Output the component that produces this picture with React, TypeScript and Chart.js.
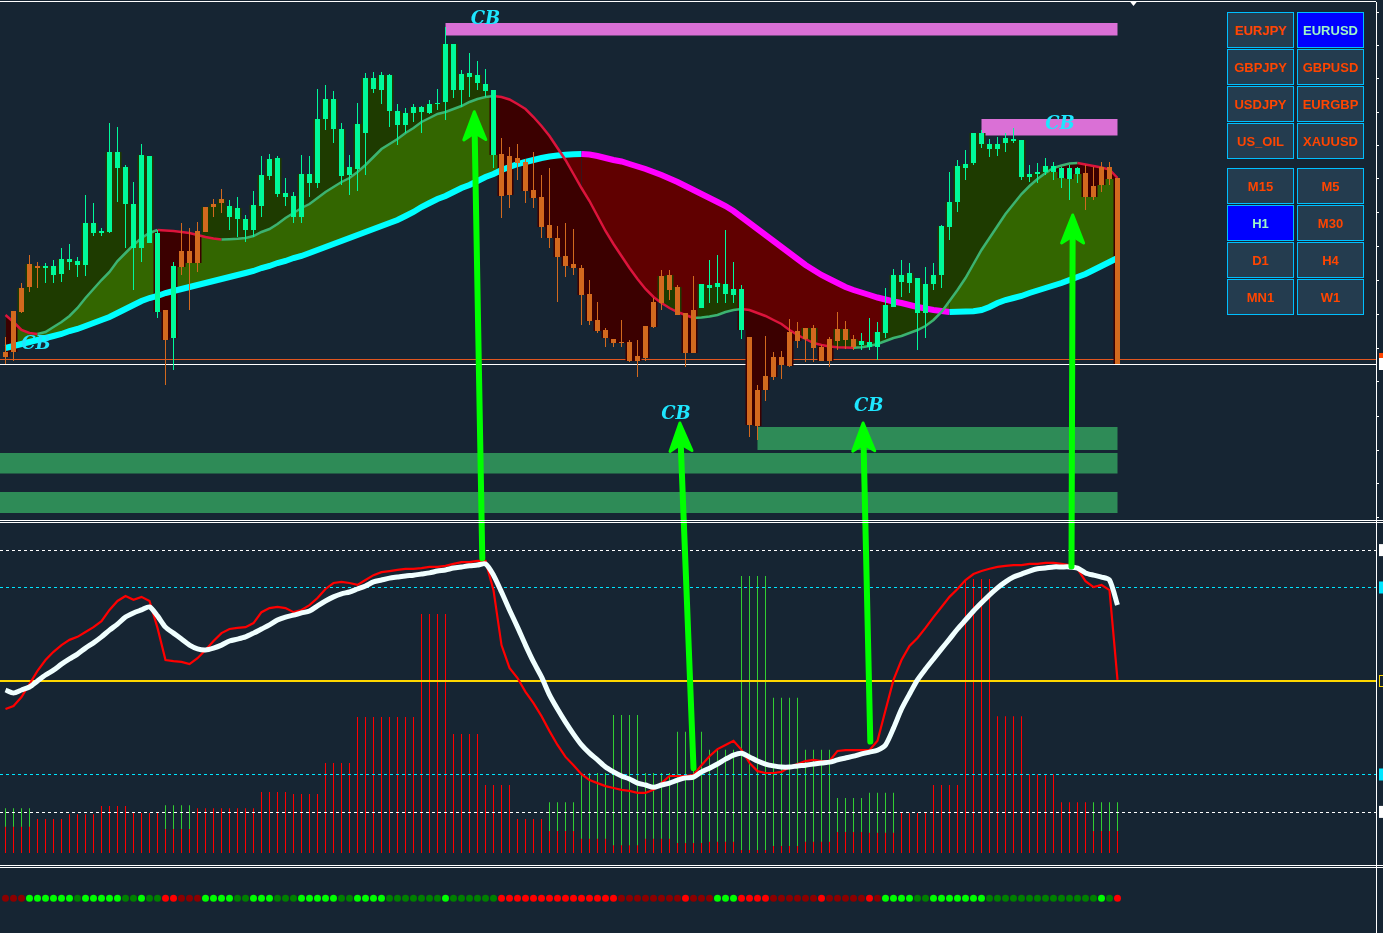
import React, { useEffect, useRef } from "react";
import { Chart, registerables } from "chart.js";

Chart.register(...registerables);

// ---------------- Price panel data (EURUSD, H1) ----------------
const openP = [
  1.0648, 1.0689, 1.0712, 1.0736, 1.0734, 1.0732, 1.0725, 1.0726, 1.0738, 1.0735,
  1.0735, 1.0767, 1.0767, 1.0768, 1.0832, 1.0796, 1.0752, 1.0752, 1.0757, 1.0688,
  1.0690, 1.0662, 1.0749, 1.0749, 1.0769, 1.0793, 1.0796, 1.0801, 1.0783, 1.0781,
  1.0770, 1.0770, 1.0794, 1.0824, 1.0806, 1.0803, 1.0783, 1.0783, 1.0817, 1.0817,
  1.0881, 1.0871, 1.0824, 1.0825, 1.0831, 1.0867, 1.0911, 1.0910, 1.0889, 1.0875,
  1.0875, 1.0887, 1.0888, 1.0887, 1.0896, 1.0898, 1.0910, 1.0910, 1.0923, 1.0917,
  1.0909, 1.0845, 1.0846, 1.0844, 1.0842, 1.0838, 1.0810, 1.0803, 1.0775, 1.0762,
  1.0744, 1.0736, 1.0732, 1.0706, 1.0680, 1.0670, 1.0661, 1.0658, 1.0658, 1.0644,
  1.0674, 1.0698, 1.0724, 1.0725, 1.0713, 1.0687, 1.0690, 1.0692, 1.0712, 1.0713,
  1.0706, 1.0705, 1.0670, 1.0663, 1.0610, 1.0624, 1.0643, 1.0643, 1.0668, 1.0669,
  1.0672, 1.0672, 1.0653, 1.0661, 1.0671, 1.0671, 1.0661, 1.0655, 1.0653, 1.0653,
  1.0667, 1.0693, 1.0718, 1.0717, 1.0687, 1.0687, 1.0716, 1.0725, 1.0773, 1.0798,
  1.0832, 1.0837, 1.0856, 1.0851, 1.0851, 1.0857, 1.0859, 1.0823, 1.0823, 1.0826,
  1.0828, 1.0828, 1.0822, 1.0821, 1.0826, 1.0827, 1.0814, 1.0833, 1.0833, 1.0822,
];
const highP = [
  1.0663, 1.0689, 1.0717, 1.0745, 1.0738, 1.0737, 1.0740, 1.0752, 1.0756, 1.0743,
  1.0805, 1.0797, 1.0772, 1.0877, 1.0873, 1.0835, 1.0818, 1.0856, 1.0844, 1.0770,
  1.0690, 1.0738, 1.0777, 1.0772, 1.0778, 1.0793, 1.0801, 1.0811, 1.0800, 1.0803,
  1.0785, 1.0809, 1.0844, 1.0846, 1.0844, 1.0822, 1.0808, 1.0845, 1.0844, 1.0911,
  1.0915, 1.0909, 1.0877, 1.0845, 1.0897, 1.0927, 1.0928, 1.0928, 1.0926, 1.0896,
  1.0892, 1.0896, 1.0894, 1.0900, 1.0911, 1.0973, 1.0956, 1.0930, 1.0947, 1.0939,
  1.0931, 1.0910, 1.0862, 1.0853, 1.0856, 1.0841, 1.0848, 1.0825, 1.0832, 1.0774,
  1.0777, 1.0771, 1.0735, 1.0720, 1.0698, 1.0672, 1.0661, 1.0680, 1.0660, 1.0660,
  1.0674, 1.0702, 1.0730, 1.0730, 1.0715, 1.0687, 1.0724, 1.0716, 1.0740, 1.0745,
  1.0770, 1.0738, 1.0715, 1.0663, 1.0615, 1.0664, 1.0648, 1.0649, 1.0681, 1.0678,
  1.0672, 1.0675, 1.0655, 1.0663, 1.0688, 1.0679, 1.0665, 1.0667, 1.0682, 1.0678,
  1.0712, 1.0731, 1.0740, 1.0737, 1.0722, 1.0733, 1.0737, 1.0775, 1.0828, 1.0840,
  1.0850, 1.0867, 1.0870, 1.0861, 1.0863, 1.0867, 1.0872, 1.0860, 1.0835, 1.0837,
  1.0842, 1.0838, 1.0833, 1.0835, 1.0833, 1.0835, 1.0833, 1.0838, 1.0838, 1.0822,
];
const lowP = [
  1.0636, 1.0639, 1.0687, 1.0708, 1.0712, 1.0717, 1.0717, 1.0718, 1.0730, 1.0723,
  1.0724, 1.0764, 1.0764, 1.0767, 1.0798, 1.0752, 1.0710, 1.0738, 1.0757, 1.0682,
  1.0615, 1.0630, 1.0725, 1.0690, 1.0728, 1.0768, 1.0783, 1.0787, 1.0770, 1.0763,
  1.0758, 1.0763, 1.0783, 1.0820, 1.0803, 1.0794, 1.0777, 1.0777, 1.0803, 1.0812,
  1.0870, 1.0857, 1.0815, 1.0805, 1.0809, 1.0825, 1.0907, 1.0896, 1.0873, 1.0855,
  1.0867, 1.0878, 1.0867, 1.0886, 1.0890, 1.0880, 1.0902, 1.0893, 1.0903, 1.0910,
  1.0903, 1.0832, 1.0782, 1.0792, 1.0820, 1.0797, 1.0792, 1.0762, 1.0752, 1.0698,
  1.0723, 1.0725, 1.0675, 1.0675, 1.0667, 1.0653, 1.0653, 1.0653, 1.0638, 1.0623,
  1.0639, 1.0672, 1.0690, 1.0700, 1.0685, 1.0633, 1.0647, 1.0692, 1.0697, 1.0697,
  1.0697, 1.0697, 1.0661, 1.0563, 1.0560, 1.0599, 1.0620, 1.0621, 1.0633, 1.0652,
  1.0638, 1.0638, 1.0639, 1.0633, 1.0650, 1.0651, 1.0650, 1.0650, 1.0650, 1.0640,
  1.0662, 1.0693, 1.0703, 1.0707, 1.0650, 1.0662, 1.0710, 1.0712, 1.0760, 1.0788,
  1.0820, 1.0835, 1.0852, 1.0843, 1.0844, 1.0848, 1.0857, 1.0820, 1.0818, 1.0817,
  1.0825, 1.0820, 1.0812, 1.0800, 1.0817, 1.0790, 1.0800, 1.0808, 1.0815, 1.0636,
];
const closeP = [
  1.0643, 1.0648, 1.0688, 1.0713, 1.0732, 1.0734, 1.0734, 1.0741, 1.0741, 1.0739,
  1.0777, 1.0777, 1.0769, 1.0848, 1.0848, 1.0833, 1.0796, 1.0845, 1.0844, 1.0767,
  1.0660, 1.0734, 1.0733, 1.0737, 1.0737, 1.0768, 1.0793, 1.0797, 1.0794, 1.0792,
  1.0781, 1.0795, 1.0825, 1.0841, 1.0842, 1.0807, 1.0804, 1.0826, 1.0826, 1.0881,
  1.0901, 1.0901, 1.0871, 1.0833, 1.0876, 1.0922, 1.0922, 1.0925, 1.0925, 1.0889,
  1.0887, 1.0893, 1.0893, 1.0896, 1.0897, 1.0956, 1.0956, 1.0926, 1.0927, 1.0925,
  1.0916, 1.0910, 1.0804, 1.0805, 1.0837, 1.0809, 1.0802, 1.0773, 1.0762, 1.0743,
  1.0734, 1.0732, 1.0705, 1.0679, 1.0669, 1.0662, 1.0657, 1.0657, 1.0639, 1.0639,
  1.0642, 1.0673, 1.0697, 1.0710, 1.0685, 1.0647, 1.0647, 1.0716, 1.0715, 1.0717,
  1.0716, 1.0711, 1.0711, 1.0575, 1.0574, 1.0610, 1.0623, 1.0635, 1.0634, 1.0659,
  1.0661, 1.0652, 1.0639, 1.0639, 1.0659, 1.0660, 1.0653, 1.0659, 1.0658, 1.0668,
  1.0695, 1.0725, 1.0725, 1.0727, 1.0722, 1.0716, 1.0725, 1.0774, 1.0798, 1.0834,
  1.0836, 1.0867, 1.0867, 1.0856, 1.0856, 1.0862, 1.0861, 1.0860, 1.0826, 1.0828,
  1.0834, 1.0834, 1.0832, 1.0832, 1.0832, 1.0803, 1.0803, 1.0815, 1.0821, 1.0636,
];
const fastMA = [
  1.0685, 1.0678, 1.0670, 1.0667, 1.0666, 1.0668, 1.0673, 1.0678, 1.0684, 1.0692,
  1.0702, 1.0711, 1.0720, 1.0728, 1.0739, 1.0747, 1.0755, 1.0762, 1.0767, 1.0770,
  1.07695, 1.0769, 1.0768, 1.0767, 1.0765, 1.0763, 1.07615, 1.07605, 1.07608, 1.07612,
  1.0762, 1.0764, 1.0768, 1.0771, 1.0776, 1.0782, 1.0787, 1.0792, 1.0796, 1.0802,
  1.0808, 1.0813, 1.0818, 1.0822, 1.0828, 1.0835, 1.0843, 1.0851, 1.0856, 1.0861,
  1.0867, 1.0872, 1.0878, 1.0882, 1.0886, 1.0888, 1.0891, 1.0894, 1.0898, 1.0901,
  1.0903, 1.0904, 1.0903, 1.09005, 1.0896, 1.0891, 1.0883, 1.0874, 1.0864, 1.0852,
  1.0840, 1.0826, 1.0812, 1.0799, 1.0784, 1.0769, 1.0756, 1.0744, 1.0732, 1.0721,
  1.0711, 1.0703, 1.0697, 1.0692, 1.0688, 1.0685, 1.0682, 1.06825, 1.06835, 1.0685,
  1.0688, 1.0690, 1.0691, 1.0690, 1.0687, 1.0684, 1.0680, 1.0676, 1.0670, 1.0665,
  1.0661, 1.0657, 1.0655, 1.06535, 1.06527, 1.06524, 1.06522, 1.06528, 1.0654, 1.0656,
  1.0659, 1.0662, 1.0664, 1.0667, 1.0670, 1.0674, 1.0680, 1.0688, 1.0699, 1.0710,
  1.0722, 1.0736, 1.0750, 1.0762, 1.0774, 1.0786, 1.0796, 1.0806, 1.0814, 1.0821,
  1.0827, 1.0832, 1.08345, 1.08365, 1.0837, 1.08355, 1.0834, 1.08325, 1.08305, 1.0822,
];
const slowMA = [
  1.0652, 1.0654, 1.0656, 1.0658, 1.0660, 1.0662, 1.0664, 1.0666, 1.0669, 1.0671,
  1.0674, 1.0677, 1.0680, 1.0683, 1.0687, 1.0691, 1.0695, 1.0699, 1.0702, 1.0704,
  1.0707, 1.0709, 1.0711, 1.0713, 1.0715, 1.0717, 1.0719, 1.0721, 1.0723, 1.0725,
  1.0727, 1.0729, 1.0732, 1.0734, 1.0737, 1.0739, 1.0742, 1.0744, 1.0747, 1.0750,
  1.0753, 1.0756, 1.0759, 1.0762, 1.0765, 1.0768, 1.0771, 1.0774, 1.0777, 1.0780,
  1.0784, 1.0788, 1.0793, 1.0797, 1.0801, 1.0804, 1.0808, 1.0812, 1.0815, 1.0819,
  1.0823, 1.0826, 1.0830, 1.0833, 1.0836, 1.0838, 1.0840, 1.0842, 1.08435, 1.08445,
  1.08452, 1.08457, 1.08459, 1.08455, 1.0844, 1.0842, 1.0840, 1.08385, 1.0836, 1.08335,
  1.0831, 1.0828, 1.0825, 1.08215, 1.0818, 1.0814, 1.0810, 1.0806, 1.0802, 1.0798,
  1.0794, 1.0789, 1.0783, 1.0777, 1.0771, 1.0765, 1.0759, 1.0753, 1.0747, 1.0741,
  1.0735, 1.0730, 1.0725, 1.0721, 1.0717, 1.0713, 1.0710, 1.07075, 1.0705, 1.07025,
  1.07005, 1.06985, 1.0697, 1.0695, 1.0693, 1.06915, 1.0690, 1.0689, 1.0688, 1.06882,
  1.06884, 1.06887, 1.0690, 1.0693, 1.0697, 1.0700, 1.0702, 1.0704, 1.0707, 1.07095,
  1.0712, 1.07145, 1.0717, 1.0720, 1.0723, 1.0726, 1.0730, 1.0734, 1.0738, 1.0742,
];
const askPrice = 1.0641;
const priceTicks = [
  1.0988, 1.09545, 1.09215, 1.0888, 1.08545, 1.08215, 1.0788, 1.0754,
  1.0720, 1.0686, 1.0652, 1.0618, 1.0584, 1.0550, 1.0516, 1.0483,
];

// supply (pink) and demand (green) zones: start bar, top price, bottom price
const supplyStart = [55, 122];
const supplyTop = [1.0977, 1.0881];
const supplyBottom = [1.09645, 1.08645];
const demandStart = [94, -1, -1];
const demandTop = [1.0573, 1.0547, 1.0508];
const demandBottom = [1.0550, 1.05265, 1.0487];

// signal glyphs
const glyphBar = [60, 131.8, 3.8, 83.8, 107.9];
const glyphPrice = [1.0981, 1.0876, 1.0656, 1.0586, 1.0594];

// arrows: from oscillator value to price
const arrowFromBar = [59.6, 86.0, 108.1, 133.25];
const arrowFromOsc = [82.8, 26.7, 33.8, 80.6];
const arrowToBar = [58.6, 84.3, 107.2, 133.4];
const arrowToPrice = [1.08883, 1.0577, 1.0577, 1.0785];

// ---------------- Oscillator panel ----------------
const oscWhite = [
  47.6, 46.8, 47.6, 48.4, 50.0, 51.6, 52.9, 54.5, 55.9, 57.2,
  58.8, 60.2, 61.8, 63.6, 65.2, 67.1, 68.2, 69.0, 69.8, 67.4,
  64.4, 62.8, 61.2, 59.6, 58.6, 58.3, 58.8, 59.6, 60.7, 61.2,
  61.8, 62.8, 63.9, 65.0, 66.3, 67.1, 67.6, 68.2, 68.7, 70.1,
  71.4, 72.5, 73.3, 73.8, 74.6, 75.4, 76.5, 77.0, 77.5, 77.8,
  78.1, 78.3, 78.6, 78.9, 79.4, 79.7, 80.2, 80.5, 80.8, 81.0,
  81.3, 78.3, 73.8, 69.0, 64.4, 59.6, 55.1, 51.1, 46.3, 42.5,
  39.0, 35.8, 32.9, 30.7, 28.9, 27.0, 25.7, 24.6, 23.8, 22.7,
  22.2, 21.6, 22.2, 22.7, 23.5, 24.1, 24.3, 25.7, 26.7, 27.8,
  29.1, 30.2, 30.7, 29.7, 28.6, 27.8, 27.3, 27.0, 27.0, 27.3,
  27.5, 27.8, 28.1, 28.3, 28.9, 29.4, 29.9, 30.5, 31.0, 31.5,
  32.9, 37.4, 42.5, 46.5, 50.3, 53.2, 55.9, 58.6, 61.2, 63.9,
  66.3, 68.7, 70.9, 73.0, 74.9, 76.5, 77.8, 78.6, 79.4, 80.0,
  80.2, 80.5, 80.5, 80.5, 80.2, 78.9, 78.3, 77.8, 77.0, 70.3,
];
const oscRed = [
  42.5, 43.3, 45.7, 49.2, 52.7, 55.6, 57.8, 59.6, 61.0, 61.8,
  63.1, 64.4, 66.0, 69.0, 71.4, 72.7, 71.7, 72.5, 71.4, 64.2,
  55.6, 55.3, 55.1, 54.5, 56.1, 58.3, 60.7, 62.8, 63.9, 64.2,
  64.4, 65.5, 68.4, 69.5, 69.8, 69.5, 68.4, 69.0, 70.3, 72.2,
  74.6, 76.2, 76.5, 76.2, 75.7, 77.0, 78.3, 79.1, 79.4, 79.7,
  80.0, 80.0, 80.2, 80.5, 80.5, 80.8, 81.3, 81.8, 81.8, 82.1,
  82.1, 74.3, 59.6, 53.5, 50.8, 47.1, 44.1, 40.6, 36.6, 32.9,
  29.7, 27.5, 25.1, 23.5, 22.7, 21.9, 21.4, 20.9, 20.6, 20.1,
  20.1, 20.9, 22.7, 24.6, 24.6, 24.6, 24.9, 27.5, 29.9, 31.8,
  32.9, 34.0, 31.6, 28.1, 25.9, 25.4, 25.4, 25.7, 27.0, 27.8,
  28.6, 28.9, 28.6, 28.6, 31.3, 31.5, 31.5, 31.5, 31.5, 34.0,
  42.2, 50.3, 55.6, 59.4, 61.5, 64.2, 67.1, 69.8, 72.5, 74.6,
  77.0, 78.6, 79.4, 80.0, 80.5, 80.8, 81.0, 81.0, 81.3, 81.3,
  81.6, 81.6, 81.3, 81.0, 80.0, 76.7, 75.1, 75.7, 74.3, 50.3,
];
// higher-timeframe histogram, one value per block of 4 bars
const histRed = [
  11.0, 13.1, 14.4, 16.6, 14.7, 10.4, 16.0, 16.0, 20.3, 19.8,
  28.1, 40.4, 40.4, 67.9, 35.8, 22.2, 13.1, 9.9, 7.8, 6.1,
  7.8, 6.7, 7.0, 4.8, 5.9, 7.0, 9.6, 9.4, 14.7, 22.2,
  77.3, 40.6, 25.1, 17.6, 9.9,
];
const histGreen = [
  16.0, null, null, null, null, 16.8, null, null, null, null,
  null, null, null, null, null, null, null, 17.6, 25.4, 40.9,
  25.4, 36.4, 31.6, 78.1, 45.5, 31.6, 18.7, 20.1, null, null,
  null, null, null, null, 17.6,
];
const histBase = 4.0;
const oscOuterLevels = [85, 15];
const oscInnerLevels = [75, 25];
const oscMidLevel = 50;

// ---------------- Trend dots panel: 2 strong up, 1 weak up, -1 weak down, -2 strong down
const dotState = [
  -1, -1, -1, 2, 2, 2, 2, 2, 2, 1,
  2, 2, 2, 2, 2, 1, 1, 2, 1, 1,
  -2, -2, -1, -1, -1, 2, 2, 2, 2, 1,
  1, 2, 2, 2, 1, 1, 1, 2, 2, 2,
  2, 2, 1, 1, 2, 2, 2, 2, 1, 1,
  1, 1, 1, 1, 1, 2, 1, 1, 1, 1,
  1, 1, -2, -2, -2, -2, -2, -2, -2, -2,
  -2, -2, -2, -2, -2, -2, -2, -1, -1, -1,
  -1, -1, -1, -1, -1, -2, -1, -1, -1, 2,
  2, 2, -2, -2, -2, -2, -1, -1, -1, -1,
  -1, -1, -2, -1, -1, -1, -1, -1, -2, -1,
  2, 2, 2, 2, 1, 1, 2, 2, 2, 2,
  2, 2, 2, 1, 1, 1, 1, 1, 1, 1,
  1, 1, 1, 1, 1, 1, 1, 2, 1, -2,
];

// ---------------- Button panel ----------------
const symbolRows = [
  ["EURJPY", "EURUSD"],
  ["GBPJPY", "GBPUSD"],
  ["USDJPY", "EURGBP"],
  ["US_OIL", "XAUUSD"],
];
const timeframeRows = [
  ["M15", "M5"],
  ["H1", "M30"],
  ["D1", "H4"],
  ["MN1", "W1"],
];
const activeSymbol = "EURUSD";
const activeTimeframe = "H1";

// ---------------- styling ----------------
const BG = "#162533";
const BULL = "#00fa9a";
const BEAR = "#d2691e";

// axis geometry (bar spacing 8px, first bar centered at 5.5px)
const X_MIN = -0.6875;
const X_MAX = 171.3125;
const PRICE_MAX = 1.0998;
const PRICE_MIN = 1.0479;
const OSC_MAX = 92.78;
const OSC_MIN = 0.535;
const DOT_LEVEL = 0.52;

function drawArrow(ctx: any, x0: number, y0: number, x1: number, y1: number) {
  const ang = Math.atan2(y1 - y0, x1 - x0);
  const c = Math.cos(ang), s = Math.sin(ang);
  const headLen = 28, headHalf = 11;
  ctx.strokeStyle = "#00ff00";
  ctx.fillStyle = "#00ff00";
  ctx.lineCap = "round";
  ctx.lineJoin = "round";
  ctx.lineWidth = 6;
  ctx.beginPath();
  ctx.moveTo(x0, y0);
  ctx.lineTo(x1 - (headLen - 6) * c, y1 - (headLen - 6) * s);
  ctx.stroke();
  const bx = x1 - headLen * c, by = y1 - headLen * s;
  const nx = -s, ny = c;
  ctx.lineWidth = 3;
  ctx.beginPath();
  ctx.moveTo(x1, y1);
  ctx.lineTo(bx + nx * headHalf, by + ny * headHalf);
  ctx.lineTo(x1 - (headLen - 7) * c, y1 - (headLen - 7) * s);
  ctx.lineTo(bx - nx * headHalf, by - ny * headHalf);
  ctx.closePath();
  ctx.fill();
  ctx.stroke();
}

export default function App() {
  const ref = useRef<HTMLCanvasElement>(null);

  useEffect(() => {
    const canvas = ref.current;
    if (!canvas) return;
    const N = closeP.length;
    const idx = closeP.map((_, i) => i);

    const bodyData = idx.map((i) => ({ x: i, y: [openP[i], closeP[i]] }));
    const wickData = idx.map((i) => ({ x: i, y: [lowP[i], highP[i]] }));
    const candleColors = idx.map((i) => (closeP[i] >= openP[i] ? BULL : BEAR));
    const edgeData = idx.map((i) => {
      const mid = (openP[i] + closeP[i]) / 2;
      return {
        x: i,
        y: mid >= fastMA[i] ? Math.max(openP[i], closeP[i]) : Math.min(openP[i], closeP[i]),
      };
    });
    const histGreenData: any[] = [];
    const histRedData: any[] = [];
    idx.forEach((i) => {
      const g = Math.floor(i / 4);
      if (histGreen[g] != null) histGreenData.push({ x: i, y: [histBase, histGreen[g]] });
      histRedData.push({ x: i, y: [histBase, histRed[g]] });
    });
    const dotColorMap: any = { 2: "#00ff00", 1: "#008000", "-1": "#8b0000", "-2": "#ff0000" };
    const dotData = idx.map((i) => ({ x: i, y: DOT_LEVEL }));
    const dotColors = dotState.map((s) => dotColorMap[String(s)]);

    const OSC_RED_DS = 9;

    const overlay = {
      id: "mtOverlay",
      beforeDatasetsDraw(chart: any) {
        const { ctx, chartArea: ca, scales } = chart;
        const xs = scales.x, ps = scales.price;
        ctx.save();
        ctx.beginPath();
        ctx.rect(ca.left, ps.top, ca.right - ca.left, ps.bottom - ps.top);
        ctx.clip();
        const xEnd = xs.getPixelForValue(N - 1);
        ctx.fillStyle = "#2e8b57";
        demandStart.forEach((b, k) => {
          const x0 = xs.getPixelForValue(b);
          const y0 = ps.getPixelForValue(demandTop[k]);
          const y1 = ps.getPixelForValue(demandBottom[k]);
          ctx.fillRect(x0, y0, xEnd - x0, y1 - y0);
        });
        ctx.fillStyle = "#da70d6";
        supplyStart.forEach((b, k) => {
          const x0 = xs.getPixelForValue(b);
          const y0 = ps.getPixelForValue(supplyTop[k]);
          const y1 = ps.getPixelForValue(supplyBottom[k]);
          ctx.fillRect(x0, y0, xEnd - x0, y1 - y0);
        });
        // ask / bid lines
        const yAsk = Math.round(ps.getPixelForValue(askPrice)) + 0.5;
        const yBid = Math.round(ps.getPixelForValue(closeP[N - 1])) + 0.5;
        ctx.lineWidth = 1;
        ctx.strokeStyle = "#e2561f";
        ctx.beginPath();
        ctx.moveTo(ca.left, yAsk);
        ctx.lineTo(ca.right, yAsk);
        ctx.stroke();
        ctx.strokeStyle = "#ffffff";
        ctx.beginPath();
        ctx.moveTo(ca.left, yBid);
        ctx.lineTo(ca.right, yBid);
        ctx.stroke();
        ctx.restore();
      },
      beforeDatasetDraw(chart: any, args: any) {
        if (args.index !== OSC_RED_DS) return;
        const { ctx, chartArea: ca, scales } = chart;
        const os = scales.osc;
        ctx.save();
        const level = (v: number, color: string, dash: number[], w: number) => {
          const y = Math.round(os.getPixelForValue(v)) + (w % 2 ? 0.5 : 0);
          ctx.strokeStyle = color;
          ctx.lineWidth = w;
          ctx.setLineDash(dash);
          ctx.beginPath();
          ctx.moveTo(ca.left, y);
          ctx.lineTo(ca.right, y);
          ctx.stroke();
        };
        oscOuterLevels.forEach((v) => level(v, "#ffffff", [3, 3], 1));
        oscInnerLevels.forEach((v) => level(v, "#00e5ff", [3, 3], 1));
        level(oscMidLevel, "#ffd700", [], 2);
        ctx.restore();
      },
      afterDatasetsDraw(chart: any) {
        const { ctx, scales } = chart;
        const xs = scales.x, ps = scales.price, os = scales.osc;
        ctx.save();
        arrowFromBar.forEach((b, k) => {
          drawArrow(
            ctx,
            xs.getPixelForValue(b),
            os.getPixelForValue(arrowFromOsc[k]),
            xs.getPixelForValue(arrowToBar[k]),
            ps.getPixelForValue(arrowToPrice[k])
          );
        });
        ctx.font = "italic bold 18px 'DejaVu Serif', serif";
        ctx.textAlign = "center";
        ctx.textBaseline = "middle";
        ctx.fillStyle = "#1ee6ff";
        glyphBar.forEach((b, k) => {
          ctx.fillText("CB", xs.getPixelForValue(b), ps.getPixelForValue(glyphPrice[k]));
        });
        ctx.restore();
      },
      afterDraw(chart: any) {
        const { ctx, chartArea: ca, scales, width } = chart;
        const ps = scales.price, os = scales.osc, xs = scales.x;
        ctx.save();
        ctx.fillStyle = "#ffffff";
        ctx.fillRect(0, ca.top - 1, ca.right, 1);
        ctx.fillRect(0, ps.bottom - 1, width, 1);
        ctx.fillRect(0, ps.bottom + 1, width, 1);
        ctx.fillRect(0, os.bottom - 1, width, 1);
        ctx.fillRect(0, os.bottom + 1, width, 1);
        // chart shift marker
        const sx = xs.getPixelForValue(N + 1);
        ctx.beginPath();
        ctx.moveTo(sx - 4, ca.top - 1);
        ctx.lineTo(sx + 4, ca.top - 1);
        ctx.lineTo(sx, ca.top + 4);
        ctx.closePath();
        ctx.fill();
        // axis labels (clipped by window edge)
        const lx = ca.right + 3;
        const box = (y: number, color: string, outline?: boolean) => {
          if (outline) {
            ctx.strokeStyle = color;
            ctx.lineWidth = 1;
            ctx.strokeRect(lx + 0.5, y - 5.5, 10, 11);
          } else {
            ctx.fillStyle = color;
            ctx.fillRect(lx, y - 6, 10, 12);
          }
        };
        box(ps.getPixelForValue(askPrice), "#ff4500");
        box(ps.getPixelForValue(closeP[N - 1]), "#ffffff");
        oscOuterLevels.forEach((v) => box(os.getPixelForValue(v), "#ffffff"));
        oscInnerLevels.forEach((v) => box(os.getPixelForValue(v), "#00e5ff"));
        box(os.getPixelForValue(oscMidLevel), "#ffd700", true);
        ctx.restore();
      },
    };

    const axisCommon = {
      type: "linear",
      position: "right",
      stack: "panes",
      bounds: "data",
      grid: { drawOnChartArea: false, drawTicks: true, tickLength: 3, color: "#ffffff", tickColor: "#ffffff" },
      border: { display: true, color: "#ffffff", width: 1 },
      ticks: { display: false },
    };

    const lineBase = { pointRadius: 0, pointHoverRadius: 0, xAxisID: "x" };
    const barBase = {
      type: "bar",
      xAxisID: "x",
      grouped: false,
      borderWidth: 0,
      inflateAmount: 0,
    };

    const chart = new Chart(canvas, {
      type: "line",
      data: {
        datasets: [
          // 0 trend dots
          {
            type: "scatter",
            xAxisID: "x",
            yAxisID: "dots",
            data: dotData,
            pointRadius: 3.5,
            pointBackgroundColor: dotColors,
            pointBorderWidth: 0,
            showLine: false,
            order: 3,
          },
          // 1 slow MA
          {
            ...lineBase,
            yAxisID: "price",
            data: idx.map((i) => ({ x: i, y: slowMA[i] })),
            borderWidth: 6,
            borderColor: "#00ffff",
            segment: {
              borderColor: (c: any) => (c.p1.parsed.y >= c.p0.parsed.y ? "#00ffff" : "#ff00ff"),
            },
            fill: false,
            order: 50,
          },
          // 2 cloud between fast and slow MA
          {
            ...lineBase,
            yAxisID: "price",
            data: idx.map((i) => ({ x: i, y: fastMA[i] })),
            borderWidth: 0,
            borderColor: "rgba(0,0,0,0)",
            fill: { target: 1, above: "#336600", below: "#600000" },
            order: 80,
          },
          // 3 price-to-fast-MA shading
          {
            ...lineBase,
            yAxisID: "price",
            data: edgeData,
            stepped: "middle",
            borderWidth: 0,
            borderColor: "rgba(0,0,0,0)",
            fill: { target: 2, above: "#1e3b00", below: "#3b0000" },
            order: 70,
          },
          // 4 fast MA
          {
            ...lineBase,
            yAxisID: "price",
            data: idx.map((i) => ({ x: i, y: fastMA[i] })),
            borderWidth: 2.5,
            borderColor: "#3cb371",
            segment: {
              borderColor: (c: any) => (c.p1.parsed.y >= c.p0.parsed.y ? "#3cb371" : "#dc143c"),
            },
            fill: false,
            order: 40,
          },
          // 5 wicks
          {
            ...barBase,
            yAxisID: "price",
            data: wickData,
            backgroundColor: candleColors,
            barThickness: 1,
            maxBarThickness: 1,
            order: 21,
          },
          // 6 bodies
          {
            ...barBase,
            yAxisID: "price",
            data: bodyData,
            backgroundColor: candleColors,
            barThickness: 5,
            maxBarThickness: 5,
            minBarLength: 1,
            order: 20,
          },
          // 7 histogram green
          {
            ...barBase,
            yAxisID: "osc",
            data: histGreenData,
            backgroundColor: "#32cd32",
            barThickness: 1,
            maxBarThickness: 1,
            order: 61,
          },
          // 8 histogram red
          {
            ...barBase,
            yAxisID: "osc",
            data: histRedData,
            backgroundColor: "#ff0000",
            barThickness: 1,
            maxBarThickness: 1,
            order: 60,
          },
          // 9 oscillator signal (red)
          {
            ...lineBase,
            yAxisID: "osc",
            data: idx.map((i) => ({ x: i, y: oscRed[i] })),
            borderWidth: 2.2,
            borderColor: "#ff0000",
            fill: false,
            order: 5,
          },
          // 10 oscillator main (white)
          {
            ...lineBase,
            yAxisID: "osc",
            data: idx.map((i) => ({ x: i, y: oscWhite[i] })),
            borderWidth: 5,
            borderColor: "#f0ffff",
            tension: 0.25,
            fill: false,
            order: 4,
          },
        ],
      },
      options: {
        responsive: false,
        animation: false,
        devicePixelRatio: 1,
        events: [],
        layout: { autoPadding: false, padding: { top: 2, right: 4, bottom: 0, left: 0 } },
        plugins: { legend: { display: false }, tooltip: { enabled: false }, title: { display: false } },
        scales: {
          x: { type: "linear", display: false, min: X_MIN, max: X_MAX, offset: false, bounds: "data" },
          price: {
            ...axisCommon,
            stackWeight: 519,
            min: PRICE_MIN,
            max: PRICE_MAX,
            afterBuildTicks: (axis: any) => {
              axis.ticks = priceTicks.map((value) => ({ value }));
            },
          },
          osc: {
            ...axisCommon,
            stackWeight: 345,
            min: OSC_MIN,
            max: OSC_MAX,
            afterBuildTicks: (axis: any) => {
              axis.ticks = [];
            },
          },
          dots: {
            ...axisCommon,
            stackWeight: 67,
            min: 0,
            max: 1,
            afterBuildTicks: (axis: any) => {
              axis.ticks = [];
            },
          },
        },
      } as any,
      plugins: [overlay],
    } as any);

    return () => chart.destroy();
  }, []);

  const btnBase: React.CSSProperties = {
    position: "absolute",
    width: 67,
    height: 36,
    boxSizing: "border-box",
    border: "1px solid #00bfff",
    display: "flex",
    alignItems: "center",
    justifyContent: "center",
    fontFamily: "'Liberation Sans', Arial, sans-serif",
    fontWeight: "bold",
    fontSize: 13,
  };
  const colLeft = [1227, 1297];
  const symTops = [12, 49, 86, 123];
  const tfTops = [168, 205, 242, 279];

  const renderRows = (rows: string[][], tops: number[], active: string) =>
    rows.flatMap((row, r) =>
      row.map((label, c) => {
        const on = label === active;
        return (
          <div
            key={label}
            style={{
              ...btnBase,
              left: colLeft[c],
              top: tops[r],
              background: on ? "#0000ff" : "#243c4f",
              color: on ? "#9ef5c8" : "#ff4500",
            }}
          >
            {label}
          </div>
        );
      })
    );

  return (
    <div
      style={{
        position: "fixed",
        left: 0,
        top: 0,
        width: 1383,
        height: 933,
        background: BG,
        overflow: "hidden",
      }}
    >
      <canvas
        ref={ref}
        width={1383}
        height={933}
        style={{ position: "absolute", left: 0, top: 0, width: 1383, height: 933 }}
      />
      {renderRows(symbolRows, symTops, activeSymbol)}
      {renderRows(timeframeRows, tfTops, activeTimeframe)}
    </div>
  );
}
